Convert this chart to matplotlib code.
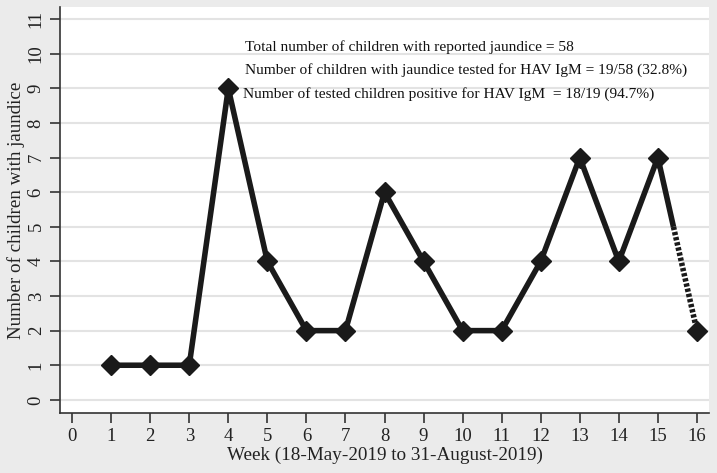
import matplotlib
matplotlib.use("Agg")
import matplotlib.pyplot as plt
import numpy as np

weeks = [1, 2, 3, 4, 5, 6, 7, 8, 9, 10, 11, 12, 13, 14, 15, 16]
cases = [1, 1, 1, 9, 4, 2, 2, 6, 4, 2, 2, 4, 7, 4, 7, 2]
xticks = list(range(0, 17))
yticks = list(range(0, 12))
notes = [
    "Total number of children with reported jaundice = 58",
    "Number of children with jaundice tested for HAV IgM = 19/58 (32.8%)",
    "Number of tested children positive for HAV IgM  = 18/19 (94.7%)",
]

plt.rcParams['font.family'] = ['Liberation Serif', 'DejaVu Serif']
fig = plt.figure(figsize=(7.17, 4.73), dpi=100, facecolor='#ebebeb')
ax = fig.add_axes([60/717, 1-413/473, (709-60)/717, (413-7)/473])
ax.set_facecolor('white')

col = '#1a1a1a'
# solid part up to week 15, plus part of last segment; dotted remainder
frac = 0.4
xm = weeks[-2] + frac*(weeks[-1]-weeks[-2])
ym = cases[-2] + frac*(cases[-1]-cases[-2])
ax.plot(weeks[:-1] + [xm], cases[:-1] + [ym], color=col, lw=4,
        solid_joinstyle='round', solid_capstyle='butt', zorder=3)
ax.plot([xm, weeks[-1]], [ym, cases[-1]], color=col, lw=4, linestyle=(0, (0.6, 0.35)), zorder=3)
ax.plot(weeks, cases, linestyle='none', marker='D', ms=10, color=col, zorder=4)

ax.set_xlim(-0.31, 16.31)
ax.set_ylim(-0.38, 11.35)
ax.set_xticks(xticks)
ax.set_yticks(yticks)
ax.set_yticklabels([str(t) for t in yticks], rotation=90, va='center')
ax.tick_params(axis='both', labelsize=13.5, length=7, width=1.2, color='#333333', labelcolor='#222222')
ax.tick_params(axis='y', pad=4)
ax.tick_params(axis='x', pad=4)
ax.grid(axis='y', color='#e3e3e3', lw=1.5)
ax.set_axisbelow(True)
for s in ['top', 'right']:
    ax.spines[s].set_visible(False)
for s in ['left', 'bottom']:
    ax.spines[s].set_color('#333333')
    ax.spines[s].set_linewidth(1.2)

ax.set_xlabel("Week (18-May-2019 to 31-August-2019)", fontsize=13.8, color='#222222', labelpad=1)
ax.set_ylabel("Number of children with jaundice", fontsize=13.7, color='#222222', labelpad=2)

for i, (t, y) in enumerate(zip(notes, [10.2, 9.54, 8.84])):
    ax.text(4.43 - (0.05 if i == 2 else 0), y, t, fontsize=11.1, color='#111111', va='center', ha='left')

fig.savefig("out.png", dpi=100, facecolor=fig.get_facecolor())
